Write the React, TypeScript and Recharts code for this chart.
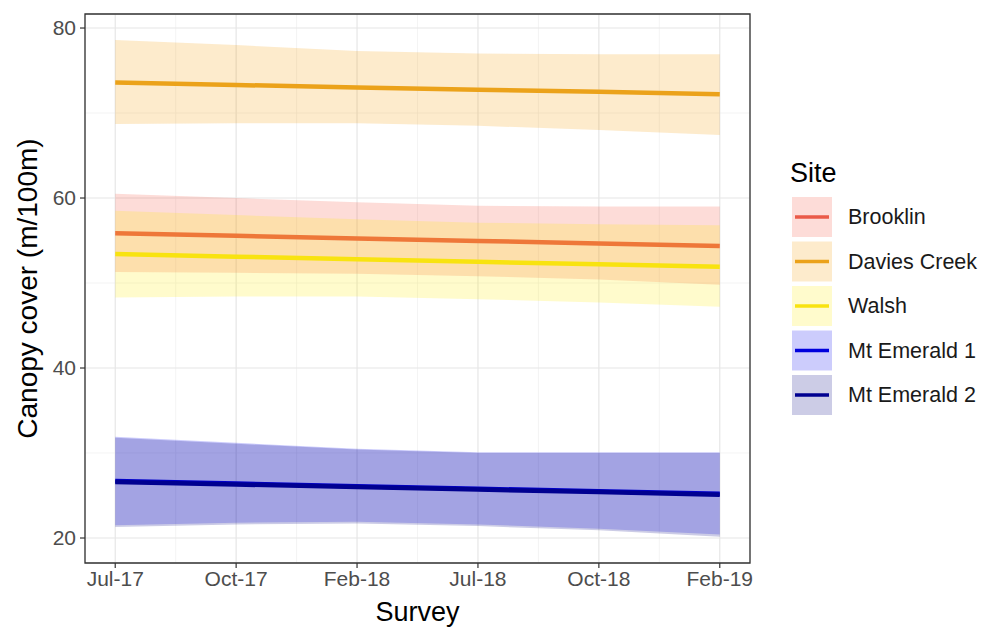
import React from 'react';
import {
  ComposedChart,
  Area,
  Line,
  XAxis,
  YAxis,
  CartesianGrid,
  ReferenceArea,
} from 'recharts';

// ---- data ----
const surveyLabels = ['Jul-17', 'Oct-17', 'Feb-18', 'Jul-18', 'Oct-18', 'Feb-19'];
const surveyIndex = [0, 1, 2, 3, 4, 5];

const brooklinFit = [55.85, 55.55, 55.25, 54.95, 54.65, 54.35];
const brooklinLo = [51.3, 51.2, 51.1, 50.8, 50.4, 49.8];
const brooklinHi = [60.5, 60.0, 59.5, 59.1, 59.0, 59.0];

const daviesFit = [73.6, 73.3, 73.0, 72.75, 72.5, 72.2];
const daviesLo = [68.7, 68.8, 68.8, 68.5, 68.0, 67.4];
const daviesHi = [78.6, 78.0, 77.3, 77.0, 76.9, 76.9];

const walshFit = [53.4, 53.1, 52.8, 52.5, 52.2, 51.9];
const walshLo = [48.3, 48.4, 48.4, 48.1, 47.7, 47.2];
const walshHi = [58.5, 58.0, 57.5, 57.1, 56.9, 56.8];

const me1Fit = [26.7, 26.4, 26.1, 25.8, 25.5, 25.2];
const me1Lo = [21.5, 21.8, 21.9, 21.6, 21.1, 20.4];
const me1Hi = [31.9, 31.2, 30.5, 30.1, 30.1, 30.1];

const me2Fit = [26.6, 26.3, 26.0, 25.7, 25.4, 25.1];
const me2Lo = [21.3, 21.6, 21.7, 21.4, 20.9, 20.15];
const me2Hi = [31.8, 31.1, 30.4, 30.0, 30.0, 30.0];

const yTicks = [20, 40, 60, 80];
const yMinor = [30, 50, 70];
const xMinor = [0.5, 1.5, 2.5, 3.5, 4.5];
const xDomain = [-0.25, 5.25];
const yDomain = [17.06, 81.65];

const sites = [
  { key: 'bro', name: 'Brooklin', fit: brooklinFit, lo: brooklinLo, hi: brooklinHi, line: '#EA5A48', fill: '#F4503A' },
  { key: 'dav', name: 'Davies Creek', fit: daviesFit, lo: daviesLo, hi: daviesHi, line: '#EBA21A', fill: '#F59B00' },
  { key: 'wal', name: 'Walsh', fit: walshFit, lo: walshLo, hi: walshHi, line: '#F8E310', fill: '#FFEB00' },
  { key: 'me1', name: 'Mt Emerald 1', fit: me1Fit, lo: me1Lo, hi: me1Hi, line: '#0000DD', fill: '#0000F0' },
  { key: 'me2', name: 'Mt Emerald 2', fit: me2Fit, lo: me2Lo, hi: me2Hi, line: '#000090', fill: '#000080' },
];

const table = surveyIndex.map((x, i) => {
  const row: any = { x };
  sites.forEach((s) => {
    row[s.key] = s.fit[i];
    row[s.key + 'R'] = [s.lo[i], s.hi[i]];
  });
  return row;
});

const FONT = '"Liberation Sans", Arial, sans-serif';
const FILL_ALPHA = 0.2;

const YTitle = (props: any) => {
  const vb = props.viewBox || {};
  const cx = (vb.x || 0) + 27;
  const cy = (vb.y || 0) + (vb.height || 0) / 2;
  return (
    <text
      x={cx}
      y={cy}
      transform={`rotate(-90 ${cx} ${cy})`}
      textAnchor="middle"
      dominantBaseline="central"
      fontSize={28}
      fill="#000"
      fontFamily={FONT}
    >
      Canopy cover (m/100m)
    </text>
  );
};

const Legend = () => {
  const keyX = 792;
  const keyTop = 197;
  const pitch = 44.5;
  const size = 40;
  return (
    <svg
      width={985}
      height={627}
      style={{ position: 'absolute', left: 0, top: 0, pointerEvents: 'none' }}
    >
      <text x={790} y={182} fontSize={27} fontFamily={FONT} fill="#000">
        Site
      </text>
      {sites.map((s, i) => {
        const y = keyTop + i * pitch;
        return (
          <g key={s.key}>
            <rect x={keyX} y={y} width={size} height={size} fill={s.fill} fillOpacity={FILL_ALPHA} />
            <line x1={keyX + 3} x2={keyX + size - 3} y1={y + size / 2} y2={y + size / 2} stroke={s.line} strokeWidth={3.5} />
            <text
              x={848}
              y={y + size / 2}
              dominantBaseline="central"
              fontSize={21.5}
              fontFamily={FONT}
              fill="#1A1A1A"
            >
              {s.name}
            </text>
          </g>
        );
      })}
    </svg>
  );
};

export default function App() {
  return (
    <div style={{ position: 'absolute', left: 0, top: 0, width: 985, height: 627, background: '#fff', fontFamily: FONT }}>
      <ComposedChart
        width={985}
        height={627}
        data={table}
        margin={{ top: 14, right: 235, bottom: 0, left: 0 }}
      >
        <CartesianGrid
          stroke="#EFEFEF"
          strokeWidth={0.7}
          verticalValues={xMinor}
          horizontalValues={yMinor}
        />
        <CartesianGrid stroke="#E6E6E6" strokeWidth={1.2} />
        <XAxis
          dataKey="x"
          type="number"
          domain={xDomain}
          ticks={surveyIndex}
          tickFormatter={(v: number) => surveyLabels[v] ?? ''}
          height={64}
          axisLine={false}
          tickSize={5}
          tickMargin={3}
          tickLine={{ stroke: '#333333', strokeWidth: 1.2 }}
          tick={{ fill: '#4D4D4D', fontSize: 21, fontFamily: FONT }}
          interval={0}
          allowDataOverflow
          label={{ value: 'Survey', position: 'insideBottom', offset: 6, fontSize: 27, fill: '#000', fontFamily: FONT }}
        />
        <YAxis
          type="number"
          domain={yDomain}
          ticks={yTicks}
          width={85}
          axisLine={false}
          tickSize={5}
          tickMargin={4}
          tickLine={{ stroke: '#333333', strokeWidth: 1.2 }}
          tick={{ fill: '#4D4D4D', fontSize: 21, fontFamily: FONT }}
          interval={0}
          allowDataOverflow
          label={{ content: YTitle }}
        />
        {sites.flatMap((s, i) => [
          <Area
            key={s.key + 'R'}
            dataKey={s.key + 'R'}
            type="linear"
            stroke="none"
            fill={s.fill}
            fillOpacity={FILL_ALPHA}
            isAnimationActive={false}
            activeDot={false}
            dot={false}
            zIndex={101 + i * 2}
          />,
          <Line
            key={s.key}
            dataKey={s.key}
            type="linear"
            stroke={s.line}
            strokeWidth={4.5}
            dot={false}
            activeDot={false}
            isAnimationActive={false}
            zIndex={102 + i * 2}
          />,
        ])}
        <ReferenceArea
          x1={xDomain[0]}
          x2={xDomain[1]}
          y1={yDomain[0]}
          y2={yDomain[1]}
          fill="none"
          fillOpacity={0}
          stroke="#333333"
          strokeWidth={1.3}
          ifOverflow="visible"
          zIndex={450}
        />
      </ComposedChart>
      <Legend />
    </div>
  );
}
